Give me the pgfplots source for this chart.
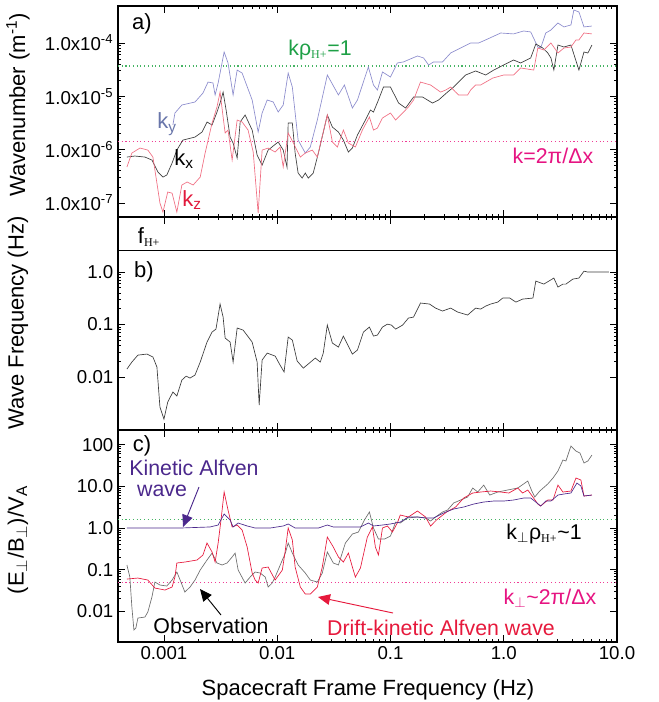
\documentclass[border=0pt]{standalone}
\usepackage{fontspec}
\setmainfont{Liberation Sans}
\newfontfamily\serifsub{Liberation Serif}
\usepackage{pgfplots}
\pgfplotsset{compat=1.18}
\usetikzlibrary{arrows.meta}

\definecolor{kygray}{RGB}{140,140,205}
\definecolor{kylab}{RGB}{105,118,170}
\definecolor{kxgray}{RGB}{60,60,60}
\definecolor{kzpink}{RGB}{240,110,130}
\definecolor{kzlab}{RGB}{225,25,60}
\definecolor{grn}{RGB}{30,160,70}
\definecolor{grnline}{RGB}{70,180,100}
\definecolor{mag}{RGB}{230,20,130}
\definecolor{magline}{RGB}{240,60,150}
\definecolor{obs}{RGB}{110,110,110}
\definecolor{dka}{RGB}{230,25,60}
\definecolor{kaw}{RGB}{75,40,140}

\newcommand{\Hp}{\textsubscript{\serifsub\fontsize{9}{9}\selectfont H+}}

\pgfplotsset{
  every axis/.append style={
    scale only axis,
    width=374.25pt,
    xmin=3.93e-4, xmax=10,
    axis line style={line width=0.9pt},
    major tick length=5pt,
    minor tick length=2.5pt,
    every tick/.style={black, line width=0.6pt},
    tick label style={font=\fontsize{14}{16}\selectfont},
    xtick={0.001,0.01,0.1,1,10},
    anchor=north west,
  },
}

\begin{document}
\begin{tikzpicture}
\useasboundingbox (0,0) rectangle (494.25pt,-526.5pt);

% ---------- panel a ----------
\begin{loglogaxis}[at={(88.5pt,-4.5pt)}, height=158.25pt,
  ymin=5.45e-8, ymax=4.94e-4,
  xticklabels={},
  ytick={1e-7,1e-6,1e-5,1e-4},
  yticklabels={1.0x10\textsuperscript{-7},1.0x10\textsuperscript{-6},1.0x10\textsuperscript{-5},1.0x10\textsuperscript{-4}},
]
\addplot[grnline, dotted, line width=0.8pt] coordinates {(3.93e-4,3.7e-5) (10,3.7e-5)};
\addplot[magline, dotted, line width=0.8pt] coordinates {(3.93e-4,1.42e-6) (10,1.42e-6)};
% k_y
\addplot[kygray, line width=0.5pt] coordinates {
(1.20e-3,2.90e-6) (1.25e-3,4.86e-6) (1.44e-3,6.87e-6) (1.88e-3,7.82e-6) (2.21e-3,1.15e-5)
(2.45e-3,1.85e-5) (2.71e-3,1.78e-5) (2.83e-3,1.06e-5) (3.01e-3,1.78e-5) (3.40e-3,6.78e-5)
(3.68e-3,4.22e-5) (4.08e-3,1.06e-5) (4.43e-3,3.11e-5) (4.90e-3,2.73e-5) (6.01e-3,8.53e-6)
(6.79e-3,2.14e-6) (7.36e-3,4.86e-6) (8.16e-3,8.53e-6) (9.23e-3,7.82e-6) (1.02e-2,5.07e-6)
(1.13e-2,6.87e-6) (1.25e-2,2.73e-5) (1.36e-2,1.49e-5) (1.53e-2,1.51e-6) (1.77e-2,8.63e-7)
(1.96e-2,1.12e-6) (2.26e-2,3.59e-6) (2.77e-2,2.51e-5) (3.47e-2,1.06e-5) (3.92e-2,1.63e-5)
(4.61e-2,6.03e-6) (5.11e-2,8.53e-6) (6.38e-2,3.55e-5) (7.08e-2,1.63e-5) (7.67e-2,1.31e-5)
(8.50e-2,2.86e-5) (0.100,2.30e-5) (0.115,4.22e-5) (0.130,4.41e-5) (0.173,5.71e-5)
(0.196,5.24e-5) (0.217,3.87e-5) (0.240,4.41e-5) (0.288,4.41e-5) (0.340,6.49e-5)
(0.416,8.05e-5) (0.510,1.00e-4) (0.601,1.00e-4) (0.722,1.19e-4) (0.940,1.54e-4)
(1.22,1.48e-4) (1.50,1.68e-4) (1.73,1.61e-4) (2.00,8.41e-5) (2.12,8.05e-5)
(2.35,1.54e-4) (2.61,1.75e-4) (3.01,2.37e-4) (3.40,2.00e-4) (3.92,2.18e-4)
(4.16,4.16e-4) (4.61,3.82e-4) (5.11,2.00e-4) (6.01,2.08e-4)
};
% k_x
\addplot[kxgray, line width=0.5pt] coordinates {
(4.71e-4,7.26e-7) (5.53e-4,7.59e-7) (6.79e-4,7.26e-7) (7.83e-4,6.38e-7) (8.85e-4,3.80e-7)
(9.80e-4,3.06e-7) (1.06e-3,3.34e-7) (1.18e-3,5.61e-7) (1.30e-3,9.82e-7) (1.47e-3,1.51e-6)
(1.88e-3,1.72e-6) (2.17e-3,2.14e-6) (2.40e-3,3.30e-6) (2.66e-3,2.90e-6) (2.94e-3,5.07e-6)
(3.13e-3,7.48e-6) (3.33e-3,1.20e-5) (3.54e-3,5.53e-6) (3.84e-3,1.72e-6) (4.08e-3,1.33e-6)
(4.43e-3,6.95e-7) (4.71e-3,3.30e-6) (5.21e-3,4.46e-6) (6.01e-3,2.33e-6) (6.65e-3,7.92e-7)
(7.36e-3,5.14e-7) (8.32e-3,9.82e-7) (1.02e-2,1.39e-6) (1.13e-2,9.82e-7) (1.22e-2,4.72e-7)
(1.25e-2,3.15e-6) (1.36e-2,3.15e-6) (1.44e-2,8.63e-7) (1.53e-2,3.64e-7) (1.66e-2,2.93e-7)
(1.77e-2,3.64e-7) (1.88e-2,2.93e-7) (2.08e-2,3.64e-7) (2.31e-2,8.63e-7) (2.77e-2,4.46e-6)
(3.07e-2,2.65e-6) (3.47e-2,2.14e-6) (3.84e-2,1.51e-6) (4.25e-2,9.01e-7) (4.61e-2,1.07e-6)
(5.11e-2,1.88e-6) (6.01e-2,3.59e-6) (6.65e-2,5.53e-6) (7.08e-2,5.07e-6) (7.83e-2,8.53e-6)
(8.67e-2,1.49e-5) (0.100,1.49e-5) (0.118,7.48e-6) (0.136,6.03e-6) (0.160,9.70e-6)
(0.192,9.70e-6) (0.235,7.48e-6) (0.266,8.53e-6) (0.319,1.20e-5) (0.361,1.49e-5)
(0.461,2.51e-5) (0.565,2.99e-5) (0.693,2.51e-5) (0.816,3.11e-5) (1.00,3.87e-5)
(1.22,4.80e-5) (1.41,4.22e-5) (1.73,5.24e-5) (1.92,9.58e-5) (2.21,8.05e-5)
(2.45,6.49e-5) (2.61,5.24e-5) (2.77,3.11e-5) (3.01,9.17e-5) (3.40,8.41e-5)
(3.92,9.17e-5) (4.61,3.11e-5) (5.11,6.78e-5) (5.53,6.49e-5) (6.01,9.17e-5)
};
% k_z
\addplot[kzpink, line width=0.5pt] coordinates {
(4.71e-4,4.72e-7) (5.21e-4,8.63e-7) (6.14e-4,1.07e-6) (7.21e-4,9.82e-7) (7.99e-4,7.26e-7)
(8.67e-4,2.36e-7) (9.22e-4,9.95e-8) (9.80e-4,6.75e-8) (1.08e-3,1.60e-7) (1.18e-3,1.53e-7)
(1.30e-3,6.75e-8) (1.44e-3,2.17e-7) (1.60e-3,2.47e-7) (1.81e-3,2.17e-7) (2.09e-3,3.06e-7)
(2.31e-3,8.63e-7) (2.66e-3,3.15e-6) (2.94e-3,6.30e-6) (3.13e-3,1.20e-5) (3.33e-3,4.09e-6)
(3.47e-3,2.05e-6) (3.68e-3,2.33e-6) (4.00e-3,6.38e-7) (4.43e-3,3.59e-6) (4.90e-3,3.30e-6)
(5.53e-3,2.33e-6) (6.14e-3,9.01e-7) (6.79e-3,6.47e-8) (7.36e-3,9.82e-7) (8.32e-3,1.07e-6)
(9.59e-3,9.01e-7) (1.06e-2,1.12e-6) (1.13e-2,4.72e-7) (1.25e-2,2.05e-6) (1.39e-2,1.33e-6)
(1.60e-2,7.26e-7) (1.77e-2,8.63e-7) (2.04e-2,9.82e-7) (2.26e-2,7.26e-7) (2.77e-2,4.46e-6)
(3.07e-2,1.39e-6) (3.40e-2,1.12e-6) (3.84e-2,2.33e-6) (4.25e-2,1.33e-6) (4.90e-2,1.12e-6)
(5.65e-2,2.33e-6) (6.52e-2,4.09e-6) (7.08e-2,2.33e-6) (7.67e-2,2.54e-6) (8.50e-2,3.92e-6)
(0.100,4.86e-6) (0.111,3.59e-6) (0.128,4.86e-6) (0.144,6.30e-6) (0.160,8.53e-6)
(0.184,1.85e-5) (0.226,1.63e-5) (0.277,1.20e-5) (0.307,1.31e-5) (0.340,1.49e-5)
(0.376,1.20e-5) (0.400,1.06e-5) (0.480,1.06e-5) (0.510,1.31e-5) (0.565,1.63e-5)
(0.625,1.63e-5) (0.693,1.85e-5) (0.800,2.20e-5) (1.00,2.51e-5) (1.22,2.51e-5)
(1.41,3.40e-5) (1.84,3.11e-5) (2.00,8.05e-5) (2.26,7.39e-5) (2.61,1.00e-4)
(3.01,6.49e-5) (3.40,8.05e-5) (3.92,8.41e-5) (4.34,1.14e-4) (4.61,1.14e-4)
(5.11,1.54e-4) (6.01,1.48e-4)
};
\end{loglogaxis}

% ---------- panel b ----------
\begin{loglogaxis}[at={(88.5pt,-162.75pt)}, height=159.75pt,
  ymin=9.8e-4, ymax=11.2,
  xticklabels={},
  ytick={0.01,0.1,1},
  yticklabels={0.01,0.1,1.0},
]
\addplot[black, line width=0.7pt] coordinates {(3.93e-4,2.6) (10,2.6)};
\addplot[kxgray, line width=0.5pt] coordinates {
(4.71e-4,0.0142) (5.21e-4,0.0193) (5.89e-4,0.0262) (7.08e-4,0.0274) (8.00e-4,0.0240)
(8.67e-4,0.0155) (9.22e-4,0.00268) (1.00e-3,0.00158) (1.08e-3,0.00334) (1.20e-3,0.00518)
(1.30e-3,0.00435) (1.44e-3,0.00877) (1.57e-3,0.0104) (1.70e-3,0.00957) (1.88e-3,0.0109)
(2.09e-3,0.0193) (2.40e-3,0.0464) (2.66e-3,0.0720) (2.88e-3,0.0820) (3.13e-3,0.246)
(3.33e-3,0.139) (3.47e-3,0.0553) (3.84e-3,0.0464) (4.08e-3,0.0193) (4.43e-3,0.0858)
(5.00e-3,0.0786) (6.01e-3,0.0464) (6.65e-3,0.0193) (6.93e-3,0.00293) (7.36e-3,0.0211)
(8.16e-3,0.0286) (9.59e-3,0.0251) (1.06e-2,0.0169) (1.15e-2,0.0125) (1.25e-2,0.0578)
(1.36e-2,0.0507) (1.50e-2,0.0202) (1.70e-2,0.0148) (2.17e-2,0.0230) (2.40e-2,0.0193)
(2.55e-2,0.0286) (2.77e-2,0.0977) (3.07e-2,0.0444) (3.47e-2,0.0373) (3.84e-2,0.0604)
(4.61e-2,0.0274) (5.11e-2,0.0327) (5.77e-2,0.0720) (6.52e-2,0.0896) (7.08e-2,0.0604)
(7.67e-2,0.0631) (8.50e-2,0.0896) (9.40e-2,0.102) (0.102,0.0977) (0.111,0.0820)
(0.128,0.0977) (0.144,0.133) (0.160,0.139) (0.184,0.257) (0.221,0.246)
(0.250,0.206) (0.288,0.181) (0.340,0.206) (0.392,0.173) (0.480,0.152)
(0.565,0.206) (0.625,0.197) (0.693,0.225) (0.767,0.246) (0.885,0.268)
(0.980,0.320) (1.13,0.320) (1.28,0.268) (1.47,0.306) (1.81,0.320)
(1.92,0.674) (2.26,0.590) (2.77,0.769) (3.01,0.518) (3.33,0.590)
(3.54,0.590) (4.08,0.736) (4.61,0.769) (5.11,1.04) (5.53,1.00) (8.49,1.00)
};
\end{loglogaxis}

% ---------- panel c ----------
\begin{loglogaxis}[at={(88.5pt,-322.5pt)}, height=159pt,
  ymin=1.85e-3, ymax=224,
  xticklabels={0.001,0.01,0.1,1.0,10.0},
  ytick={0.01,0.1,1,10,100},
  yticklabels={0.01,0.1,1.0,10.0,100},
]
\addplot[grnline, dotted, line width=0.8pt] coordinates {(3.93e-4,1.64) (10,1.64)};
\addplot[magline, dotted, line width=0.8pt] coordinates {(3.93e-4,0.049) (10,0.049)};
% observation
\addplot[obs, line width=0.5pt] coordinates {
(4.71e-4,0.130) (5.00e-4,0.0668) (5.21e-4,0.0128) (5.43e-4,0.00358) (5.65e-4,0.00400)
(5.89e-4,0.00695) (6.79e-4,0.00734) (7.21e-4,0.00968) (7.83e-4,0.0221) (8.32e-4,0.0507)
(9.22e-4,0.0430) (1.06e-3,0.0407) (1.18e-3,0.0566) (1.30e-3,0.0881) (1.39e-3,0.0566)
(1.53e-3,0.0292) (1.70e-3,0.0385) (1.88e-3,0.0566) (2.09e-3,0.0984) (2.40e-3,0.171)
(2.66e-3,0.251) (2.94e-3,0.145) (3.26e-3,0.130) (3.61e-3,0.145) (4.00e-3,0.202)
(4.25e-3,0.251) (4.52e-3,0.0984) (5.21e-3,0.0480) (5.77e-3,0.0668) (6.39e-3,0.0881)
(7.08e-3,0.0833) (7.84e-3,0.0668) (8.32e-3,0.0385) (9.04e-3,0.0480) (9.59e-3,0.0668)
(1.11e-2,0.171) (1.18e-2,0.251) (1.25e-2,0.437) (1.36e-2,0.251) (1.53e-2,0.130)
(1.77e-2,0.0833) (1.96e-2,0.0566) (2.26e-2,0.0507) (2.50e-2,0.0833) (2.77e-2,0.266)
(3.13e-2,0.145) (3.47e-2,0.130) (4.00e-2,0.437) (4.61e-2,0.718) (5.21e-2,0.802)
(5.89e-2,1.56) (6.52e-2,2.42) (7.08e-2,1.00) (7.83e-2,0.545) (8.85e-2,0.545)
(0.100,0.643) (0.111,1.39) (0.122,1.32) (0.141,1.74) (0.173,1.84)
(0.204,1.74) (0.226,1.47) (0.250,1.84) (0.288,2.42) (0.319,2.70)
(0.361,3.98) (0.416,4.69) (0.480,5.54) (0.532,9.10) (0.589,7.30)
(0.666,10.7) (0.752,6.18) (0.885,7.30) (1.08,8.15) (1.33,9.10)
(1.63,13.4) (1.77,7.71) (1.88,5.54) (2.08,7.71) (2.45,11.4)
(2.72,15.8) (3.01,23.3) (3.33,42.7) (3.54,40.4) (3.92,92.6)
(4.34,70.3) (4.71,62.9) (5.11,36.2) (5.53,40.4) (6.01,56.3)
};
% drift-kinetic Alfven wave
\addplot[dka, line width=0.5pt] coordinates {
(4.71e-4,0.0598) (5.89e-4,0.0632) (7.21e-4,0.0566) (8.32e-4,0.0364) (1.02e-3,0.0326)
(1.18e-3,0.0385) (1.25e-3,0.0668) (1.30e-3,0.145) (1.53e-3,0.153) (1.96e-3,0.171)
(2.21e-3,0.225) (2.40e-3,0.437) (2.66e-3,0.266) (2.83e-3,0.153) (3.01e-3,0.437)
(3.19e-3,1.56) (3.40e-3,7.30) (3.68e-3,2.70) (4.00e-3,1.06) (4.43e-3,1.18)
(4.90e-3,0.895) (5.43e-3,0.350) (6.01e-3,0.0833) (6.39e-3,0.0566) (6.79e-3,0.0480)
(7.36e-3,0.110) (8.32e-3,0.116) (9.59e-3,0.0566) (1.11e-2,0.0984) (1.18e-2,0.297)
(1.25e-2,1.00) (1.36e-2,0.516) (1.44e-2,0.116) (1.60e-2,0.0385) (1.77e-2,0.0261)
(1.96e-2,0.0261) (2.26e-2,0.0385) (2.50e-2,0.116) (2.77e-2,0.608) (3.13e-2,0.350)
(3.47e-2,0.202) (3.84e-2,0.153) (4.25e-2,0.251) (4.61e-2,0.116) (4.90e-2,0.0668)
(5.43e-2,0.110) (6.25e-2,0.608) (6.93e-2,1.06) (7.36e-2,0.350) (7.83e-2,0.225)
(8.50e-2,1.00) (9.40e-2,1.12) (0.104,0.802) (0.115,1.32) (0.122,2.05)
(0.144,1.84) (0.173,2.56) (0.204,1.84) (0.226,1.12) (0.255,1.56)
(0.313,2.42) (0.376,3.19) (0.443,5.24) (0.532,6.91) (0.625,7.30)
(0.767,7.71) (0.940,7.30) (1.11,6.91) (1.33,9.10) (1.47,6.91)
(1.63,8.15) (1.81,5.54) (2.00,3.76) (2.12,3.37) (2.45,4.69)
(2.72,4.69) (3.01,10.7) (3.33,7.30) (3.92,7.71) (4.34,15.8)
(4.80,14.2) (5.11,5.85) (6.01,6.18)
};
% kinetic Alfven wave
\addplot[kaw, line width=0.5pt] coordinates {
(4.71e-4,1.00) (1.39e-3,1.00) (2.55e-3,1.06) (3.01e-3,1.18) (3.40e-3,2.17)
(3.84e-3,1.56) (4.08e-3,1.06) (4.52e-3,1.32) (5.43e-3,1.12) (6.39e-3,1.00)
(8.68e-3,1.00) (1.13e-2,1.12) (1.25e-2,1.25) (1.44e-2,1.00) (2.31e-2,1.00)
(2.77e-2,1.18) (3.13e-2,1.06) (4.16e-2,1.06) (5.43e-2,1.06) (6.38e-2,1.32)
(7.08e-2,1.12) (8.50e-2,1.18) (0.100,1.25) (0.122,1.39) (0.144,1.84)
(0.173,1.84) (0.204,1.74) (0.240,1.74) (0.294,2.29) (0.361,2.86)
(0.443,3.19) (0.543,3.76) (0.666,4.20) (0.816,4.44) (1.00,4.44)
(1.22,4.69) (1.50,5.24) (1.73,5.24) (1.92,4.20) (2.12,3.37)
(2.35,4.44) (2.61,4.44) (3.01,6.18) (3.40,6.54) (3.92,6.91)
(4.43,12.0) (4.80,10.2) (5.11,5.85) (6.01,6.18)
};
\end{loglogaxis}

% ---------- annotations (pixel frame of the reference) ----------
\begin{scope}[x=0.75pt, y=-0.75pt]
\def\lab{\fontsize{16.5}{18}\selectfont}
\def\ann{\fontsize{16}{18}\selectfont}
\node[font=\lab] at (142,24) {a)};
\node[font=\ann, text=grn] at (320,50) {kρ\Hp=1};
\node[font=\ann, text=mag] at (553,156) {k=2π/Δx};
\node[font=\lab, text=kylab] at (167,124) {k\textsubscript{y}};
\node[font=\lab, text=black] at (184,159) {k\textsubscript{x}};
\node[font=\lab, text=kzlab] at (192,200) {k\textsubscript{z}};
\node[font=\lab] at (149,237) {f\Hp};
\node[font=\lab] at (144,272) {b)};
\node[font=\lab] at (142,446) {c)};
\node[font=\ann, text=kaw] at (194,468) {Kinetic Alfven};
\node[font=\ann, text=kaw] at (162,491) {wave};
\draw[kaw, line width=0.7pt, -{Triangle[length=9pt,width=8pt]}] (199,487) -- (183,527);
\node[font=\ann] at (211,626) {Observation};
\draw[black, line width=0.7pt, -{Triangle[length=9pt,width=8pt]}] (221,615) -- (200,589);
\node[font=\ann, text=dka] at (441,628) {Drift-kinetic Alfven wave};
\draw[dka, line width=0.7pt, -{Triangle[length=9pt,width=8pt]}] (393,613) -- (318,597);
\node[font=\ann] at (544,534) {k\textsubscript{$\perp$}ρ\Hp\textasciitilde1};
\node[font=\ann, text=mag] at (550,598) {k\textsubscript{$\perp$}\textasciitilde2π/Δx};
% axis titles
\node[font=\lab, rotate=90] at (18,105) {Wavenumber (m\textsuperscript{-1})};
\node[font=\lab, rotate=90] at (18,323) {Wave Frequency (Hz)};
\node[font=\lab, rotate=90] at (18,540) {(E\textsubscript{$\perp$}/B\textsubscript{$\perp$})/V\textsubscript{A}};
\node[font=\lab] at (368,690) {Spacecraft Frame Frequency (Hz)};
\end{scope}
\end{tikzpicture}
\end{document}
